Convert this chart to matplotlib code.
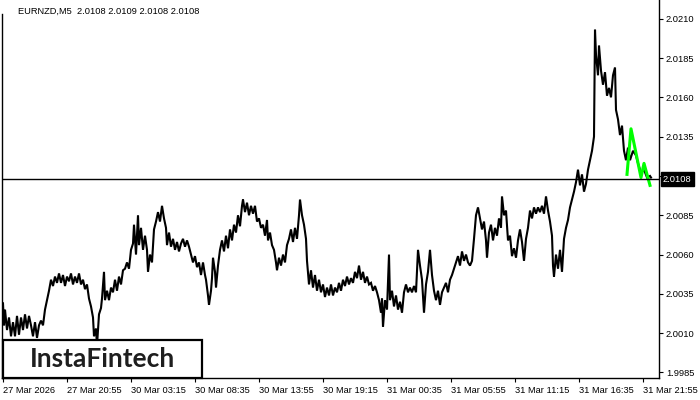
import numpy as np
import matplotlib.pyplot as plt
from matplotlib.patches import Rectangle
import matplotlib.transforms as mtransforms

# ---------------------------------------------------------------------------
# Data (M5 bars, bar index 0 = 27 Mar 2026)
# ---------------------------------------------------------------------------

SYMBOL_TITLE = "EURNZD,M5  2.0108 2.0109 2.0108 2.0108"
LAST_PRICE = 2.0108

# zig-zag path through bar highs / lows
bars = [
    0, 1, 2, 4, 6, 8, 10, 12, 14, 16, 18, 20, 22, 24, 26, 28, 30, 32, 34, 36,
    38, 40, 42, 44, 46, 48, 50, 52, 54, 56, 58, 60, 62, 64, 66, 68, 70, 72, 74, 76,
    78, 80, 82, 84, 86, 88, 90, 91, 93, 94, 96, 98, 99, 101, 102, 104, 106, 108, 110, 112,
    114, 116, 118, 120, 122, 124, 126, 128, 130, 131, 133, 135, 136, 138, 140, 142, 144, 145, 147, 149,
    151, 153, 155, 157, 159, 161,
    163, 164, 166, 168, 170, 172, 174, 176, 178, 180, 182, 184, 186, 188, 190, 192, 194, 196, 198, 200,
    202, 203, 205, 206, 208, 209, 210, 212, 213, 215, 217, 219, 221, 223, 225, 227, 229, 231, 233, 235,
    237, 239, 240, 242, 244, 246, 248, 250, 252, 254, 256, 258, 260, 262, 264, 265, 267, 269, 271, 273,
    274, 276, 278, 280, 282, 284, 286, 288, 290, 292, 294, 296, 297, 299, 301, 303, 304, 306, 308, 310,
    312, 314, 316, 318, 320, 322, 324, 326,
    328, 330, 332, 334, 336, 338, 340, 342, 344, 346, 348, 350, 352, 354, 356, 358, 360, 362, 364, 366,
    368, 370, 372, 374, 376, 378, 379, 380, 382, 384, 386, 387, 389, 391, 393, 395, 397, 399, 401, 403,
    405, 407, 409, 411, 413, 415, 417, 419, 421, 423, 425, 427, 429, 431, 433, 435, 437, 439, 441, 443,
    445, 447, 449, 451, 453, 455, 457, 459, 461, 463, 465, 467, 469, 471, 473, 475, 477, 479, 481, 483,
    484, 486, 488, 490,
    492, 494, 496, 498, 499, 501, 503, 505, 507, 509, 511, 513, 515, 517, 519, 521, 523, 525, 527, 529,
    531, 533, 535, 537, 539, 541, 543, 545, 547, 549, 550, 551, 553, 555, 557, 559, 561, 563, 565, 567,
    569, 571, 573, 575, 577, 579, 581, 583, 585, 587, 589, 591, 592, 593, 595, 596, 598, 600, 602, 604,
    606, 608, 610, 612, 613, 615, 617, 619, 621, 623, 625, 627, 630, 633, 635, 638, 641, 644, 647, 648,
]
prices = [
    2.0029, 2.0015, 2.0025, 2.0012, 2.0020, 2.0008, 2.0017, 2.0008, 2.0021, 2.0009, 2.0020, 2.0012, 2.0022, 2.0013, 2.0021, 2.0015, 2.0008, 2.0017, 2.0007, 2.0015,
    2.0018, 2.0015, 2.0025, 2.0031, 2.0037, 2.0044, 2.0040, 2.0046, 2.0042, 2.0048, 2.0042, 2.0047, 2.0040, 2.0046, 2.0043, 2.0048, 2.0041, 2.0046, 2.0042, 2.0048,
    2.0041, 2.0044, 2.0038, 2.0041, 2.0032, 2.0027, 2.0020, 2.0008, 2.0013, 2.0002, 2.0022, 2.0026, 2.0032, 2.0049, 2.0031, 2.0037, 2.0031, 2.0039, 2.0036, 2.0044,
    2.0037, 2.0046, 2.0041, 2.0050, 2.0051, 2.0055, 2.0051, 2.0063, 2.0067, 2.0079, 2.0060, 2.0085, 2.0066, 2.0077, 2.0063, 2.0072, 2.0063, 2.0049, 2.0060, 2.0055,
    2.0076, 2.0081, 2.0087, 2.0081, 2.0091, 2.0083,
    2.0077, 2.0066, 2.0074, 2.0065, 2.0070, 2.0063, 2.0068, 2.0062, 2.0067, 2.0070, 2.0065, 2.0069, 2.0065, 2.0060, 2.0055, 2.0059, 2.0052, 2.0055, 2.0047, 2.0055,
    2.0047, 2.0044, 2.0034, 2.0028, 2.0037, 2.0045, 2.0058, 2.0049, 2.0039, 2.0053, 2.0063, 2.0069, 2.0062, 2.0072, 2.0064, 2.0076, 2.0069, 2.0079, 2.0074, 2.0085,
    2.0078, 2.0091, 2.0095, 2.0087, 2.0093, 2.0085, 2.0091, 2.0086, 2.0091, 2.0081, 2.0083, 2.0077, 2.0079, 2.0072, 2.0082, 2.0069, 2.0074, 2.0066, 2.0063, 2.0055,
    2.0050, 2.0058, 2.0053, 2.0060, 2.0055, 2.0066, 2.0070, 2.0076, 2.0068, 2.0077, 2.0070, 2.0085, 2.0095, 2.0085, 2.0079, 2.0070, 2.0056, 2.0041, 2.0050, 2.0039,
    2.0047, 2.0037, 2.0044, 2.0036, 2.0041, 2.0033, 2.0039, 2.0034,
    2.0041, 2.0034, 2.0039, 2.0036, 2.0042, 2.0037, 2.0044, 2.0040, 2.0046, 2.0041, 2.0045, 2.0042, 2.0049, 2.0045, 2.0053, 2.0044, 2.0049, 2.0042, 2.0046, 2.0041,
    2.0042, 2.0037, 2.0040, 2.0036, 2.0031, 2.0023, 2.0032, 2.0014, 2.0031, 2.0025, 2.0060, 2.0031, 2.0037, 2.0027, 2.0034, 2.0025, 2.0030, 2.0023, 2.0036, 2.0041,
    2.0036, 2.0039, 2.0036, 2.0040, 2.0036, 2.0063, 2.0053, 2.0044, 2.0023, 2.0041, 2.0049, 2.0063, 2.0047, 2.0037, 2.0031, 2.0037, 2.0028, 2.0036, 2.0039, 2.0042,
    2.0036, 2.0044, 2.0047, 2.0051, 2.0055, 2.0059, 2.0053, 2.0062, 2.0056, 2.0060, 2.0055, 2.0053, 2.0056, 2.0070, 2.0085, 2.0090, 2.0083, 2.0076, 2.0081, 2.0069,
    2.0058, 2.0074, 2.0079, 2.0069,
    2.0077, 2.0072, 2.0083, 2.0077, 2.0097, 2.0085, 2.0088, 2.0069, 2.0072, 2.0059, 2.0064, 2.0058, 2.0069, 2.0076, 2.0068, 2.0056, 2.0070, 2.0077, 2.0088, 2.0083,
    2.0090, 2.0086, 2.0090, 2.0087, 2.0091, 2.0086, 2.0097, 2.0088, 2.0081, 2.0072, 2.0053, 2.0046, 2.0060, 2.0051, 2.0063, 2.0049, 2.0070, 2.0077, 2.0082, 2.0090,
    2.0095, 2.0100, 2.0106, 2.0114, 2.0104, 2.0111, 2.0100, 2.0105, 2.0114, 2.0120, 2.0126, 2.0135, 2.0203, 2.0187, 2.0174, 2.0193, 2.0177, 2.0168, 2.0176, 2.0161,
    2.0166, 2.0160, 2.0174, 2.0179, 2.0152, 2.0146, 2.0136, 2.0142, 2.0126, 2.0120, 2.0128, 2.0120, 2.0126, 2.0123, 2.0118, 2.0112, 2.0114, 2.0109, 2.0110, 2.0109,
]

# pattern marker drawn in green over the last bars
pattern_bars = [624, 628, 638, 641, 647]
pattern_prices = [2.0111, 2.0140, 2.0109, 2.0118, 2.0104]

# axis labels
ytick_vals = [1.9985, 2.0010, 2.0035, 2.0060, 2.0085, 2.0110, 2.0135, 2.0160, 2.0185, 2.0210]
xtick_pos = [0, 64, 128, 192, 256, 320, 384, 448, 512, 576, 640]
xtick_labels = ['27 Mar 2026', '27 Mar 20:55', '30 Mar 03:15', '30 Mar 08:35', '30 Mar 13:55',
                '30 Mar 19:15', '31 Mar 00:35', '31 Mar 05:55', '31 Mar 11:15', '31 Mar 16:35',
                '31 Mar 21:55']

# ---------------------------------------------------------------------------
# Plot
# ---------------------------------------------------------------------------

W, H = 700, 400
plt.rcParams['font.family'] = ['Liberation Sans', 'DejaVu Sans']
FS = 6.7

fig = plt.figure(figsize=(7, 4), dpi=100)
ax = fig.add_axes([2 / W, 22 / H, 657 / W, 378 / H])

ax.plot(bars, prices, color='black', lw=1.5, solid_joinstyle='miter')
ax.plot(pattern_bars, pattern_prices, color='#00ff00', lw=2.2)
ax.axhline(LAST_PRICE, color='black', lw=1.0)

ax.set_xlim(-1, 656)
ax.set_ylim(1.99815, 2.02219)

ax.yaxis.tick_right()
ax.set_yticks(ytick_vals)
# the 2.0110 label sits under the last-price box, so it is left blank
ax.set_yticklabels(['' if abs(v - 2.0110) < 1e-6 else f'{v:.4f}' for v in ytick_vals])
ax.set_xticks(xtick_pos)
ax.set_xticklabels(xtick_labels, ha='left')
ax.tick_params(axis='both', labelsize=FS, length=3, width=0.8, color='black', pad=2)
ax.tick_params(axis='x', pad=3)
ax.spines['top'].set_visible(False)
for s in ['left', 'right', 'bottom']:
    ax.spines[s].set_linewidth(1.0)
ax.spines['left'].set_bounds(1.99815, 2.0213)

# last price label on the price scale
trans = mtransforms.blended_transform_factory(ax.transAxes, ax.transData)
ax.text(1.006, LAST_PRICE, f'{LAST_PRICE:.4f}', transform=trans, color='white',
        fontsize=FS, va='center', ha='left', clip_on=False, zorder=5,
        bbox=dict(boxstyle='square,pad=0.25', fc='black', ec='black'))

# symbol header
fig.text(18 / W, 1 - 11 / H, SYMBOL_TITLE, fontsize=FS, va='center', ha='left')

# logo box
fig.patches.append(Rectangle((3 / W, 22 / H), 199 / W, 38 / H, transform=fig.transFigure,
                             fc='white', ec='black', lw=1.6, zorder=10))
fig.text(102 / W, 41 / H, 'InstaFintech', fontsize=19, color='#1e1e1e', family='Lato',
         fontweight='bold', ha='center', va='center', zorder=11)

fig.savefig('out.png', dpi=100)
